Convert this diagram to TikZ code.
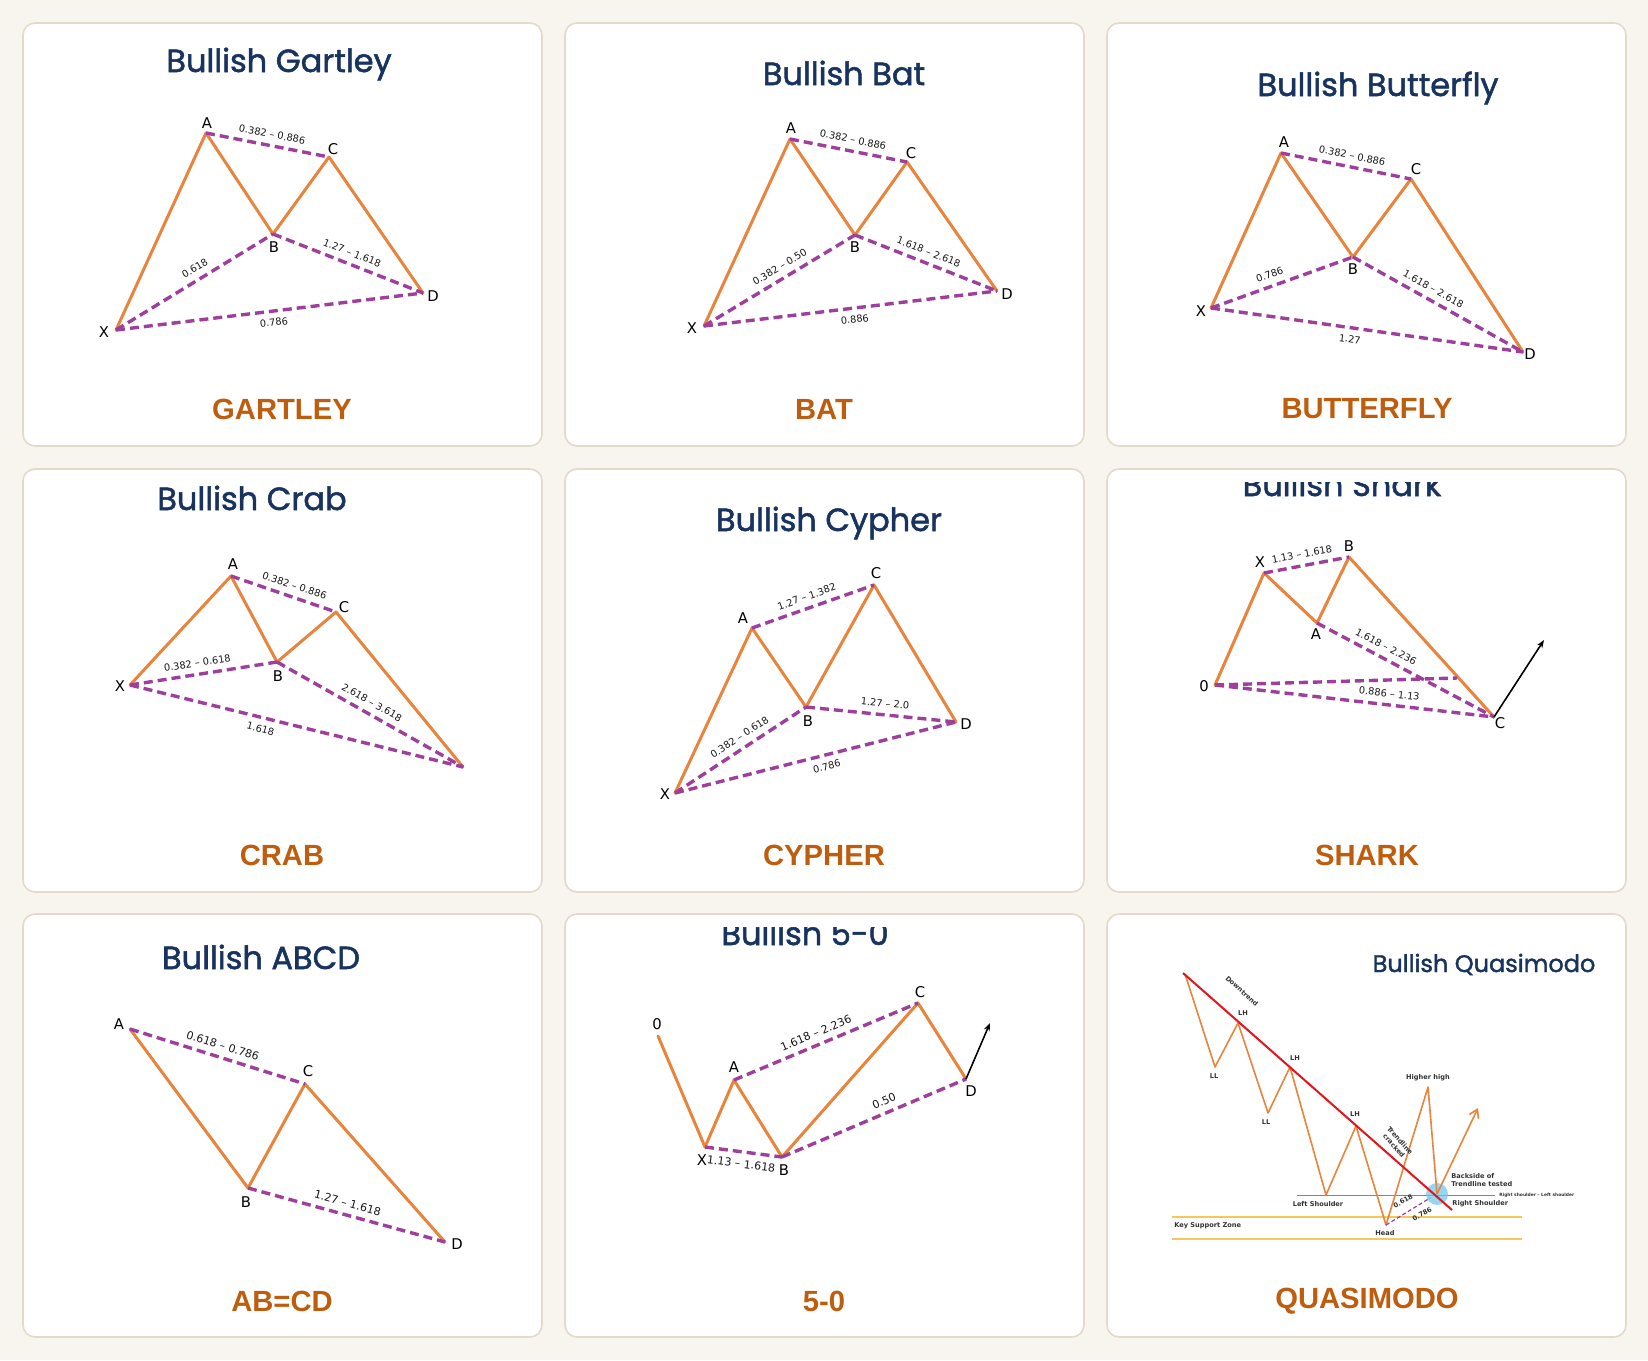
\documentclass[tikz,border=0pt]{standalone}
\usepackage{fontspec}
\setmainfont{DejaVu Sans}
\newfontfamily\titlefont[FakeBold=1.6]{Poppins}
\newfontfamily\capfont{Liberation Sans}
\usetikzlibrary{arrows.meta}
\definecolor{bg}{HTML}{F8F5EE}
\definecolor{cardborder}{HTML}{E3DACB}
\definecolor{navy}{HTML}{18335E}
\definecolor{capcol}{HTML}{BF5D0E}
\definecolor{orng}{HTML}{E8843C}
\definecolor{purp}{HTML}{9E3F9C}
\definecolor{qred}{HTML}{E3141B}
\definecolor{qyel}{HTML}{F2C75C}
\definecolor{qpur}{HTML}{9A6BD0}
\definecolor{qblue}{HTML}{6CC6EE}
\begin{document}
\begin{tikzpicture}[x=0.5pt,y=-0.5pt,
  leg/.style={draw=orng, line width=1.5pt, line join=round, line cap=round},
  ratio/.style={draw=purp, line width=1.7pt, dash pattern=on 4.5pt off 2.5pt},
  rlab/.style={font=\fontsize{4.9}{5}\selectfont, text=black!90, sloped, inner xsep=0.5pt, inner ysep=3pt},
  rlabb/.style={rlab, font=\fontsize{5.5}{6}\selectfont},
  vlab/.style={font=\fontsize{7.4}{8}\selectfont, text=black, inner sep=0pt},
  ttl/.style={font=\titlefont\fontsize{16}{18}\selectfont, text=navy, anchor=base, inner sep=0pt},
  capt/.style={font=\capfont\bfseries\fontsize{14.6}{16}\selectfont, text=capcol},
  card/.style={draw=cardborder, line width=0.8pt, fill=white, rounded corners=6pt},
  qtxt/.style={font=\bfseries\fontsize{3.3}{4}\selectfont, text=black!80, inner sep=0.5pt},
  qleg/.style={draw=orng, line width=0.8pt, line join=round},
  blackarrow/.style={draw=black, line width=0.8pt, -{Stealth[length=4pt,width=3pt]}}
]
\fill[bg] (0,0) rectangle (1648,1360);
\useasboundingbox (0,0) rectangle (1648,1360);
% cards
\foreach \cx in {23,565,1107}{
  \foreach \cy in {23,469,914}{
    \draw[card] (\cx,\cy) rectangle ++(519,423);
  }
}
% ---------- captions ----------
\node[capt] (c1) at (282,409) {GARTLEY};
\node[capt] (c2) at (824,409) {BAT};
\node[capt] (c3) at (1367,409) {BUTTERFLY};
\node[capt] (c4) at (282,855) {CRAB};
\node[capt] (c5) at (824,855) {CYPHER};
\node[capt] (c6) at (1367,855) {SHARK};
\node[capt] (c7) at (282,1301) {AB=CD};
\node[capt] (c8) at (824,1301) {5-0};
\node[capt] (c9) at (1367,1301) {QUASIMODO};
% ---------- titles ----------
\node[ttl] (t1) at (279,72) {Bullish Gartley};
\node[ttl] (t2) at (844,85) {Bullish Bat};
\node[ttl] (t3) at (1378,96) {Bullish Butterfly};
\node[ttl] (t4) at (252,510) {Bullish Crab};
\node[ttl] (t5) at (829,531) {Bullish Cypher};
\begin{scope}
  \clip (1107,482) rectangle (1626,560);
  \node[ttl] (t6) at (1342,496) {Bullish Shark};
\end{scope}
\node[ttl] (t7) at (261,969) {Bullish ABCD};
\begin{scope}
  \clip (565,927) rectangle (1084,1000);
  \node[ttl] (t8) at (805,945) {Bullish 5-0};
\end{scope}
\node[ttl, font=\titlefont\fontsize{12}{14}\selectfont] (t9) at (1484,972) {Bullish Quasimodo};

% ---------- Gartley ----------
\coordinate (gX) at (116,330);
\coordinate (gA) at (206,133);
\coordinate (gB) at (273,234);
\coordinate (gC) at (329,157);
\coordinate (gD) at (423,293);
\draw[leg] (gX) -- (gA) -- (gB) -- (gC) -- (gD);
\draw[ratio] (gA) -- node[rlab,pos=.52,above]{0.382 – 0.886} (gC);
\draw[ratio] (gX) -- node[rlab,pos=.54,above]{0.618} (gB);
\draw[ratio] (gB) -- node[rlab,pos=.5,above]{1.27 – 1.618} (gD);
\draw[ratio] (gX) -- node[rlab,pos=.51,below]{0.786} (gD);
\node[vlab] (gXl) at (104,332) {X};
\node[vlab] (gAl) at (207,123) {A};
\node[vlab] (gBl) at (274,247) {B};
\node[vlab] (gCl) at (333,149) {C};
\node[vlab] (gDl) at (433,296) {D};

% ---------- Bat ----------
\coordinate (bX) at (704,326);
\coordinate (bA) at (790,139);
\coordinate (bB) at (855,235);
\coordinate (bC) at (907,162);
\coordinate (bD) at (997,291);
\draw[leg] (bX) -- (bA) -- (bB) -- (bC) -- (bD);
\draw[ratio] (bA) -- node[rlab,pos=.52,above]{0.382 – 0.886} (bC);
\draw[ratio] (bX) -- node[rlab,pos=.54,above]{0.382 – 0.50} (bB);
\draw[ratio] (bB) -- node[rlab,pos=.49,above]{1.618 – 2.618} (bD);
\draw[ratio] (bX) -- node[rlab,pos=.51,below]{0.886} (bD);
\node[vlab] (bXl) at (692,328) {X};
\node[vlab] (bAl) at (791,128) {A};
\node[vlab] (bBl) at (855,247) {B};
\node[vlab] (bCl) at (911,153) {C};
\node[vlab] (bDl) at (1007,294) {D};

% ---------- Butterfly ----------
\coordinate (fX) at (1211,308);
\coordinate (fA) at (1281,153);
\coordinate (fB) at (1353,257);
\coordinate (fC) at (1411,179);
\coordinate (fD) at (1523,352);
\draw[leg] (fX) -- (fA) -- (fB) -- (fC) -- (fD);
\draw[ratio] (fA) -- node[rlab,pos=.53,above]{0.382 – 0.886} (fC);
\draw[ratio] (fX) -- node[rlab,pos=.44,above]{0.786} (fB);
\draw[ratio] (fB) -- node[rlab,pos=.44,above]{1.618 – 2.618} (fD);
\draw[ratio] (fX) -- node[rlab,pos=.45,below]{1.27} (fD);
\node[vlab] (fXl) at (1201,311) {X};
\node[vlab] (fAl) at (1284,142) {A};
\node[vlab] (fBl) at (1353,269) {B};
\node[vlab] (fCl) at (1416,169) {C};
\node[vlab] (fDl) at (1530,354) {D};

% ---------- Crab ----------
\coordinate (kX) at (130,685);
\coordinate (kA) at (231,576);
\coordinate (kB) at (277,662);
\coordinate (kC) at (336,612);
\coordinate (kD) at (463,767);
\draw[leg] (kX) -- (kA) -- (kB) -- (kC) -- (kD);
\draw[ratio] (kA) -- node[rlab,pos=.57,above]{0.382 – 0.886} (kC);
\draw[ratio] (kX) -- node[rlab,pos=.47,above]{0.382 – 0.618} (kB);
\draw[ratio] (kB) -- node[rlab,pos=.48,above]{2.618 – 3.618} (kD);
\draw[ratio] (kX) -- node[rlab,pos=.40,below]{1.618} (kD);
\node[vlab] (kXl) at (120,686) {X};
\node[vlab] (kAl) at (233,564) {A};
\node[vlab] (kBl) at (278,676) {B};
\node[vlab] (kCl) at (344,607) {C};

% ---------- Cypher ----------
\coordinate (yX) at (675,793);
\coordinate (yA) at (752,628);
\coordinate (yB) at (806,707);
\coordinate (yC) at (874,585);
\coordinate (yD) at (956,722);
\draw[leg] (yX) -- (yA) -- (yB) -- (yC) -- (yD);
\draw[ratio] (yA) -- node[rlab,pos=.48,above]{1.27 – 1.382} (yC);
\draw[ratio] (yX) -- node[rlab,pos=.54,above]{0.382 – 0.618} (yB);
\draw[ratio] (yB) -- node[rlab,pos=.52,above]{1.27 – 2.0} (yD);
\draw[ratio] (yX) -- node[rlab,pos=.53,below]{0.786} (yD);
\node[vlab] (yXl) at (665,794) {X};
\node[vlab] (yAl) at (743,618) {A};
\node[vlab] (yBl) at (808,721) {B};
\node[vlab] (yCl) at (876,573) {C};
\node[vlab] (yDl) at (966,724) {D};

% ---------- Shark ----------
\coordinate (sO) at (1215,685);
\coordinate (sX) at (1264,573);
\coordinate (sA) at (1317,623);
\coordinate (sB) at (1349,557);
\coordinate (sC) at (1494,717);
\coordinate (sP) at (1457,678);
\coordinate (sT) at (1544,640);
\draw[leg] (sO) -- (sX) -- (sA) -- (sB) -- (sC);
\draw[ratio] (sX) -- node[rlab,pos=.47,above]{1.13 – 1.618} (sB);
\draw[ratio] (sA) -- node[rlab,pos=.36,above]{1.618 – 2.236} (sC);
\draw[ratio] (sO) -- (sP);
\draw[ratio] (sO) -- node[rlab,pos=.62,above]{0.886 – 1.13} (sC);
\draw[blackarrow] (sC) -- (sT);
\node[vlab] (sOl) at (1204,686) {0};
\node[vlab] (sXl) at (1260,562) {X};
\node[vlab] (sAl) at (1316,634) {A};
\node[vlab] (sBl) at (1349,546) {B};
\node[vlab] (sCl) at (1500,723) {C};

% ---------- ABCD ----------
\coordinate (aA) at (130,1029);
\coordinate (aB) at (248,1188);
\coordinate (aC) at (305,1084);
\coordinate (aD) at (445,1242);
\draw[leg] (aA) -- (aB) -- (aC) -- (aD);
\draw[ratio] (aA) -- node[rlabb,pos=.51,above]{0.618 – 0.786} (aC);
\draw[ratio] (aB) -- node[rlabb,pos=.49,above]{1.27 – 1.618} (aD);
\node[vlab] (aAl) at (119,1024) {A};
\node[vlab] (aBl) at (246,1202) {B};
\node[vlab] (aCl) at (308,1071) {C};
\node[vlab] (aDl) at (457,1244) {D};

% ---------- 5-0 ----------
\coordinate (oO) at (658,1036);
\coordinate (oX) at (705,1147);
\coordinate (oA) at (734,1080);
\coordinate (oB) at (782,1157);
\coordinate (oC) at (918,1003);
\coordinate (oD) at (966,1079);
\coordinate (oT) at (990,1023);
\draw[leg] (oO) -- (oX) -- (oA) -- (oB) -- (oC) -- (oD);
\draw[ratio] (oX) -- node[rlabb,pos=.49,below]{1.13 – 1.618} (oB);
\draw[ratio] (oA) -- node[rlabb,pos=.47,above]{1.618 – 2.236} (oC);
\draw[ratio] (oB) -- node[rlabb,pos=.58,above]{0.50} (oD);
\draw[blackarrow] (oD) -- (oT);
\node[vlab] (oOl) at (657,1024) {0};
\node[vlab] (oXl) at (702,1160) {X};
\node[vlab] (oAl) at (734,1067) {A};
\node[vlab] (oBl) at (784,1170) {B};
\node[vlab] (oCl) at (920,992) {C};
\node[vlab] (oDl) at (971,1091) {D};

% ---------- Quasimodo ----------
\draw[qyel, line width=0.8pt] (1172,1217) -- (1522,1217);
\draw[qyel, line width=0.8pt] (1172,1239) -- (1522,1239);
\draw[qpur, line width=0.5pt] (1297,1195) -- (1495,1195);
\coordinate (q0) at (1185,974);
\coordinate (q1) at (1215,1067);
\coordinate (q2) at (1238,1023);
\coordinate (q3) at (1268,1113);
\coordinate (q4) at (1290,1067);
\coordinate (q5) at (1326,1195);
\coordinate (q6) at (1356,1126);
\coordinate (q7) at (1386,1225);
\coordinate (q8) at (1428,1087);
\coordinate (q9) at (1437,1194);
\coordinate (q10) at (1478,1108);
\coordinate (rS) at (1183,973);
\coordinate (rE) at (1452,1210);
\coordinate (qm) at (1430,1198);
\fill[qblue, opacity=0.7] (q9) circle (11);
\draw[qleg] (q0) -- (q1) -- (q2) -- (q3) -- (q4) -- (q5) -- (q6) -- (q7) -- (q8) -- (q9);
\draw[qleg, -{Straight Barb[length=4pt,width=5pt]}] (q9) -- (q10);
\draw[qred, line width=1pt] (rS) -- (rE);
\draw[purp, line width=0.6pt, dash pattern=on 2pt off 1.2pt] (q7) -- (qm);
\node[qtxt, rotate=-42] (qdt) at (1242,991) {Downtrend};
\node[qtxt] (qlh1) at (1243,1013) {LH};
\node[qtxt] (qlh2) at (1295,1058) {LH};
\node[qtxt] (qlh3) at (1355,1114) {LH};
\node[qtxt] (qll1) at (1214,1076) {LL};
\node[qtxt] (qll2) at (1266,1122) {LL};
\node[qtxt] (qhh) at (1428,1078) {Higher high};
\node[qtxt, rotate=-48, align=center, inner sep=0pt] (qtc) at (1397,1143) {Trendline\\cracked};
\node[qtxt, anchor=west, align=left] (qbs) at (1450,1180) {Backside of\\Trendline tested};
\node[qtxt, anchor=west] (qrs) at (1451,1204) {Right Shoulder};
\node[qtxt] (qls) at (1318,1204) {Left Shoulder};
\node[qtxt] (qhd) at (1385,1233) {Head};
\node[qtxt, anchor=west] (qks) at (1173,1226) {Key Support Zone};
\node[qtxt, anchor=west, font=\bfseries\fontsize{2.2}{3}\selectfont] (qrl) at (1498,1195) {Right shoulder – Left shoulder};
\node[qtxt, rotate=30, inner sep=0pt] (q618) at (1403,1201) {0.618};
\node[qtxt, rotate=30, inner sep=0pt] (q786) at (1422,1214) {0.786};
\end{tikzpicture}
\end{document}
